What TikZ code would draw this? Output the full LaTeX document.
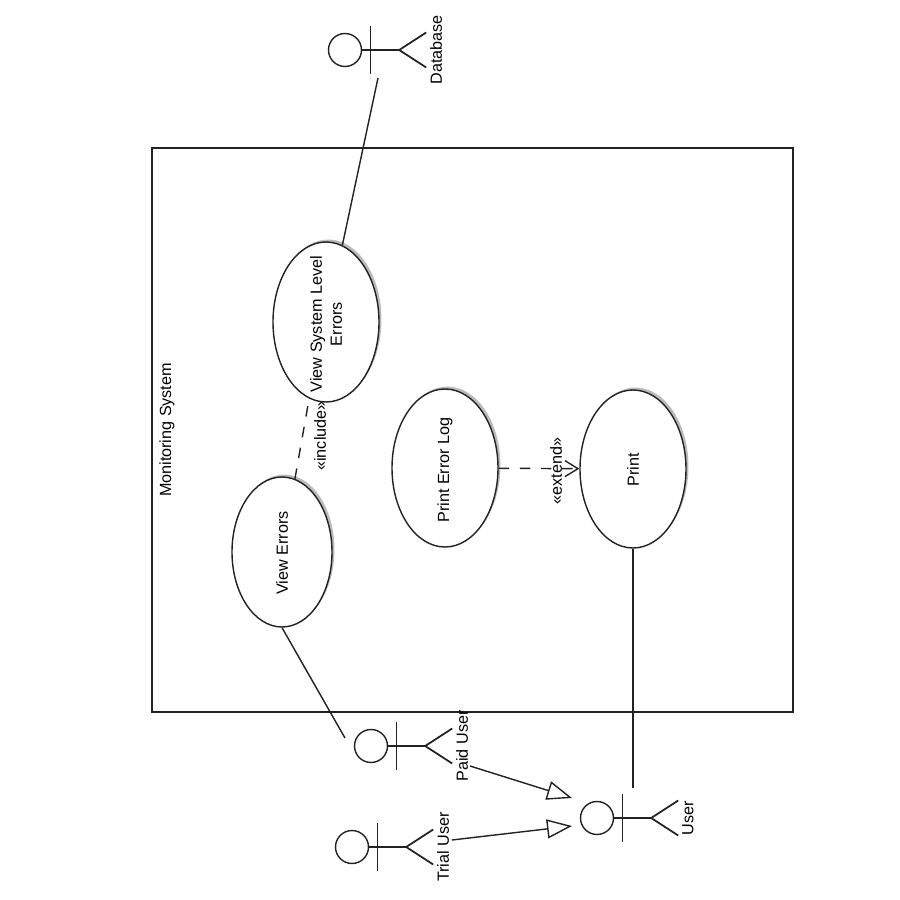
\documentclass[tikz,border=0pt]{standalone}
\usepackage{fontspec}
\setmainfont{Liberation Sans}
\usetikzlibrary{shapes.geometric, arrows.meta, calc, shadows}
\definecolor{linegray}{HTML}{222222}
\definecolor{shadowgray}{HTML}{BBBBBB}

\newcommand{\drawactor}[4]{
  \node[actorhead] (#1) at (#2,#3) {};
  \draw[umlline, line width=0.5pt] (#1.east) -- ++(0.37,0) coordinate (#1hip) -- ++(0.27,0.175);
  \draw[umlline, line width=0.5pt] (#1hip) -- ++(0.27,-0.175);
  \draw[umlline, line width=0.5pt] ($(#1)+(0.255,0.24)$) -- ($(#1)+(0.255,-0.24)$);
  \node[smalltext] (#1name) at ($(#1)+(0.91,0)$) {#4};
}

\begin{document}
\begin{tikzpicture}[
  umlline/.style={draw=linegray, line width=0.4pt},
  smalltext/.style={rotate=90, inner sep=0pt, align=center, font=\fontsize{4.6}{5.7}\selectfont},
  actorhead/.style={circle, umlline, minimum size=0.33cm, inner sep=0pt},
  usecase/.style={ellipse, umlline, fill=white, inner sep=0pt, general shadow={shadow xshift=0.7pt, shadow yshift=0.7pt, fill=shadowgray}},
  dep/.style={umlline, dashed},
  general/.style={umlline, -{Triangle[open, length=0.25cm, width=0.19cm]}}
]
  \useasboundingbox (0,0) rectangle (9,9);

  \node[umlline, minimum width=6.41cm, minimum height=5.64cm, inner sep=0pt] (system) at (4.725,4.7) {};
  \node[smalltext] (systemname) at (1.67,4.7) {Monitoring System};

  \node[usecase, minimum width=1.06cm, minimum height=1.6cm] (vsle) at (3.26,5.78) {};
  \node[usecase, minimum width=1.06cm, minimum height=1.58cm] (errorlog) at (4.45,4.32) {};
  \node[usecase, minimum width=1.06cm, minimum height=1.58cm] (print) at (6.33,4.31) {};
  \node[usecase, minimum width=1.0cm, minimum height=1.5cm] (viewerrors) at (2.82,3.48) {};

  \node[smalltext] (vsletext) at (3.26,5.76) {View System Level\\Errors};
  \node[smalltext] (errorlogtext) at (4.45,4.3) {Print Error Log};
  \node[smalltext] (printtext) at (6.33,4.3) {Print};
  \node[smalltext] (viewerrorstext) at (2.82,3.47) {View Errors};

  \drawactor{database}{3.45}{8.5}{Database}
  \drawactor{paiduser}{3.71}{1.54}{Paid User}
  \drawactor{trialuser}{3.52}{0.53}{Trial User}
  \drawactor{user}{5.97}{0.82}{User}

  % free ends stop short of the actors
  \coordinate (databaseend) at (3.78,8.22);
  \coordinate (paidend) at (3.45,1.62);
  \coordinate (userend) at (6.33,1.12);
  \coordinate (includeend) at (3.08,4.95);
  \coordinate (paidfrom) at (4.70,1.34);
  \coordinate (trialfrom) at (4.52,0.60);
  \coordinate (paidtip) at (5.72,1.02);
  \coordinate (trialtip) at (5.72,0.74);

  \draw[umlline] (databaseend) -- (vsle);
  \draw[umlline] (viewerrors.south) -- (paidend);
  \draw[umlline] (print.south) -- (userend);
  \draw[dep] (viewerrors) -- (includeend);
  \draw[dep, -{Straight Barb[length=0.13cm, width=0.16cm]}] (errorlog) -- (print);
  \draw[general] (paidfrom) -- (paidtip);
  \draw[general] (trialfrom) -- (trialtip);

  \node[smalltext] (includetext) at (3.20,4.64) {«include»};
  \node[smalltext] (extendtext) at (5.56,4.29) {«extend»};
\end{tikzpicture}
\end{document}
